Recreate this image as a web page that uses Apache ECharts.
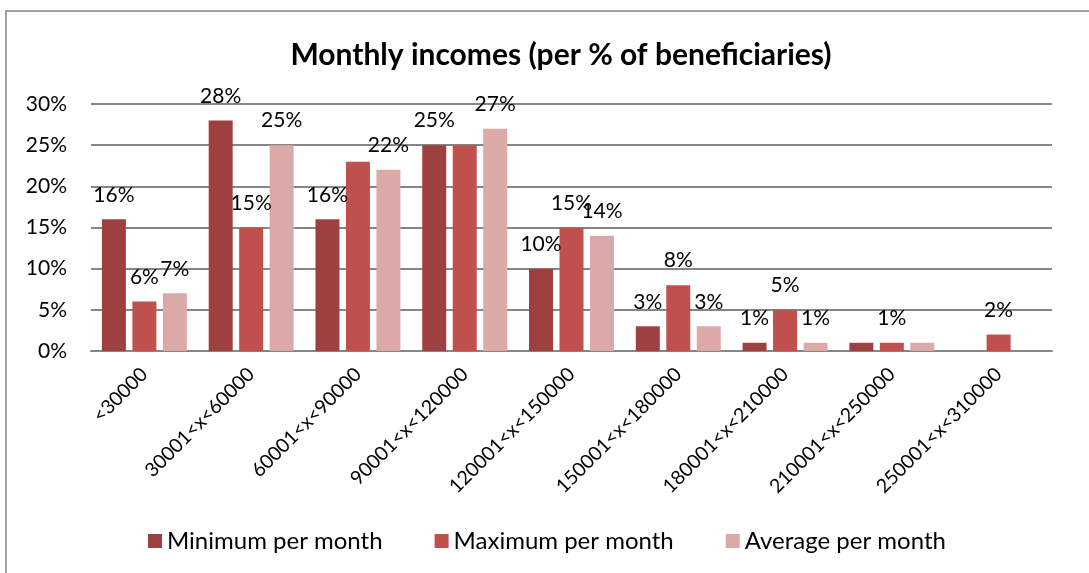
<!DOCTYPE html>
<html>
<head>
<meta charset="utf-8">
<script src="https://cdn.jsdelivr.net/npm/echarts@6/dist/echarts.min.js"></script>
<style>
  html, body { margin: 0; padding: 0; background: #fff; }
  #chart { width: 1089px; height: 573px; }
</style>
</head>
<body>
<div id="chart"></div>
<script>
const categories = ['<30000', '30001<x<60000', '60001<x<90000', '90001<x<120000', '120001<x<150000',
  '150001<x<180000', '180001<x<210000', '210001<x<250000', '250001<x<310000']
const minPerMonth = [16, 28, 16, 25, 10, 3, 1, 1, null]
const maxPerMonth = [6, 15, 23, 25, 15, 8, 5, 1, 2]
const avgPerMonth = [7, 25, 22, 27, 14, 3, 1, 1, null]
const yTicks = [0, 5, 10, 15, 20, 25, 30]
// data labels that the original chart does not show
const hiddenMin = [7]
const hiddenMax = [2, 3]
const hiddenAvg = [7]

const font = 'Lato, "Open Sans", sans-serif'

function barSeries(name, data, color, hidden) {
  return {
    name,
    type: 'bar',
    data,
    barWidth: 24,
    barGap: '27%',
    itemStyle: { color },
    label: {
      show: true,
      position: 'top',
      distance: 14,
      color: '#000',
      fontFamily: font,
      fontSize: 21,
      formatter: p => (hidden.indexOf(p.dataIndex) >= 0 || p.value == null) ? '' : p.value + '%'
    }
  }
}

const chart = echarts.init(document.getElementById('chart'))
chart.setOption({
  animation: false,
  textStyle: { fontFamily: font },
  graphic: [{
    type: 'rect',
    shape: { x: 6, y: 11, width: 1200, height: 700 },
    style: { fill: 'none', stroke: '#868686', lineWidth: 1.5 },
    silent: true,
    z: -10
  }],
  title: {
    text: 'Monthly incomes (per % of beneficiaries)',
    left: 556,
    textAlign: 'center',
    top: 35,
    textStyle: { fontFamily: font, fontWeight: 'bold', fontSize: 30, color: '#000' }
  },
  legend: {
    left: 143,
    top: 524,
    itemWidth: 14,
    itemHeight: 14,
    itemGap: 52,
    icon: 'rect',
    textStyle: { fontFamily: font, fontSize: 24, color: '#000', padding: [0, 0, 0, 0] },
    data: ['Minimum per month', 'Maximum per month', 'Average per month']
  },
  grid: { left: 91, right: 37, top: 104, bottom: 222, containLabel: false },
  xAxis: {
    type: 'category',
    data: categories,
    axisLine: { lineStyle: { color: '#868686', width: 2 } },
    axisTick: { show: false },
    axisLabel: { rotate: 45, margin: 20, fontSize: 19.5, color: '#000', fontFamily: font, interval: 0 }
  },
  yAxis: {
    type: 'value',
    min: yTicks[0],
    max: yTicks[yTicks.length - 1],
    interval: 5,
    axisLine: { show: false },
    axisTick: { show: false },
    splitLine: { lineStyle: { color: '#868686', width: 2 } },
    axisLabel: { formatter: '{value}%', margin: 24, fontSize: 21, color: '#000', fontFamily: font }
  },
  series: [
    barSeries('Minimum per month', minPerMonth, '#9E403F', hiddenMin),
    barSeries('Maximum per month', maxPerMonth, '#C0504D', hiddenMax),
    barSeries('Average per month', avgPerMonth, '#DAA9A8', hiddenAvg)
  ]
})
</script>
</body>
</html>
